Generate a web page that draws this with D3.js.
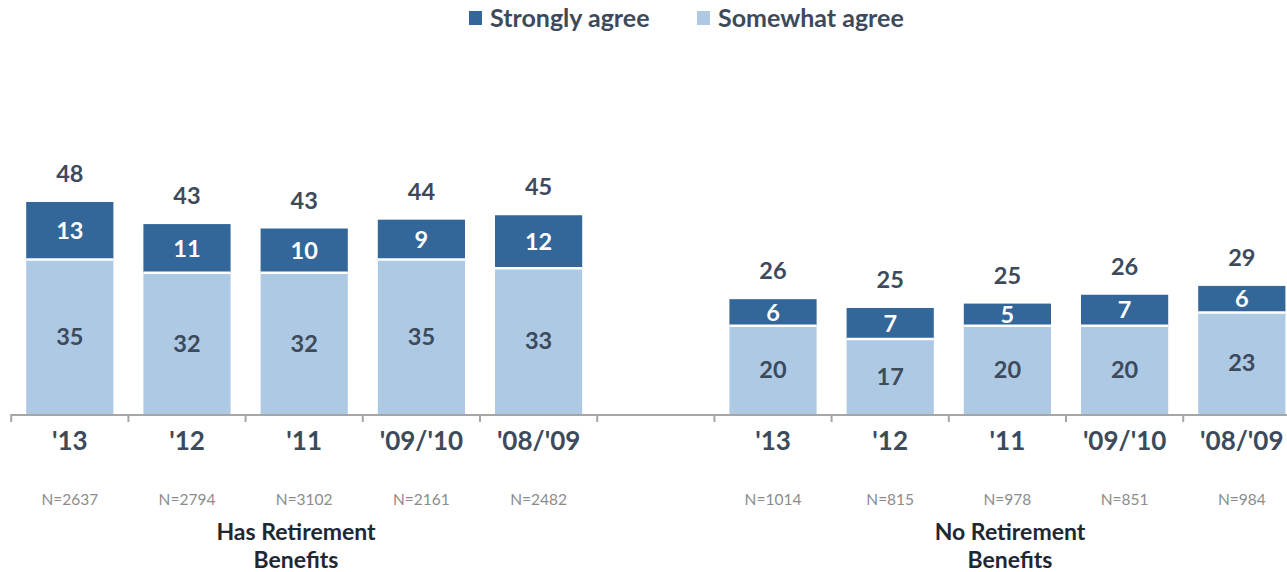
<!DOCTYPE html>
<html><head><meta charset="utf-8">
<script src="https://cdn.jsdelivr.net/npm/d3@7"></script>
<style>body{margin:0;background:#fff;} svg{display:block;font-family:Lato,"Open Sans",sans-serif;}</style>
</head><body><svg id="c" width="1287" height="572"></svg>
<script>
const groups = ["Has Retirement Benefits", "No Retirement Benefits"];
const years = ["'13", "'12", "'11", "'09/'10", "'08/'09"];
const hasStrongly = [13, 11, 10, 9, 12];
const hasSomewhat = [35, 32, 32, 35, 33];
const hasTotal = [48, 43, 43, 44, 45];
const hasN = ["N=2637", "N=2794", "N=3102", "N=2161", "N=2482"];
const noStrongly = [6, 7, 5, 7, 6];
const noSomewhat = [20, 17, 20, 20, 23];
const noTotal = [26, 25, 25, 26, 29];
const noN = ["N=1014", "N=815", "N=978", "N=851", "N=984"];
const seriesNames = ["Strongly agree", "Somewhat agree"];

const dark = "#336699", light = "#adc9e4", txt = "#3c4a5b";

const rows = [];
years.forEach((y,i)=>rows.push({key:"h"+i, year:y, s:hasStrongly[i], w:hasSomewhat[i], t:hasTotal[i], n:hasN[i]}));
const keys = rows.map(r=>r.key).concat(["gap"]);
years.forEach((y,i)=>{rows.push({key:"n"+i, year:y, s:noStrongly[i], w:noSomewhat[i], t:noTotal[i], n:noN[i]}); keys.push("n"+i);});

const svg = d3.select("#c");
const base = 414;
const x = d3.scaleBand().domain(keys).range([11.2, 1300.4]).paddingInner(0.256).paddingOuter(0.128);
const y = d3.scaleLinear().domain([0, 48]).range([base, base - 212]);
const step = x.step();

// axis
svg.append("line").attr("x1", 11).attr("x2", 1287).attr("y1", base+1).attr("y2", base+1)
  .attr("stroke", "#a6a6a6").attr("stroke-width", 2);
keys.forEach(k=>{
  const tx = x(k) - (step - x.bandwidth())/2;
  svg.append("line").attr("x1", tx).attr("x2", tx).attr("y1", base).attr("y2", base+8)
    .attr("stroke", "#a6a6a6").attr("stroke-width", 2);
});

const g = svg.selectAll("g.bar").data(rows).join("g").attr("class","bar");
g.append("rect").attr("x", d=>x(d.key)).attr("width", x.bandwidth())
  .attr("y", d=>y(d.w)).attr("height", d=>base - y(d.w)).attr("fill", light);
g.append("rect").attr("x", d=>x(d.key)).attr("width", x.bandwidth())
  .attr("y", d=>y(d.w + d.s)).attr("height", d=>y(d.w) - y(d.w + d.s)).attr("fill", dark);
g.append("line").attr("x1", d=>x(d.key)).attr("x2", d=>x(d.key)+x.bandwidth())
  .attr("y1", d=>y(d.w)).attr("y2", d=>y(d.w)).attr("stroke", "#fff").attr("stroke-width", 2.5);

const cx = d => x(d.key) + x.bandwidth()/2;
g.append("text").attr("x", cx).attr("y", d=>(y(d.w)+base)/2).attr("dy","0.35em")
  .attr("text-anchor","middle").attr("font-size",23.5).attr("font-weight",700).attr("fill",txt)
  .text(d=>d.w);
g.append("text").attr("x", cx).attr("y", d=>(y(d.w)+y(d.w+d.s))/2).attr("dy","0.35em")
  .attr("text-anchor","middle").attr("font-size",23.5).attr("font-weight",700).attr("fill","#fff")
  .text(d=>d.s);
g.append("text").attr("x", cx).attr("y", d=>y(d.w+d.s)-28).attr("dy","0.35em")
  .attr("text-anchor","middle").attr("font-size",23.5).attr("font-weight",700).attr("fill",txt)
  .text(d=>d.t);
g.append("text").attr("x", cx).attr("y", 441).attr("dy","0.35em")
  .attr("text-anchor","middle").attr("font-size",26).attr("font-weight",700).attr("fill",txt)
  .text(d=>d.year);
g.append("text").attr("x", cx).attr("y", 500).attr("dy","0.35em")
  .attr("text-anchor","middle").attr("font-size",15.5).attr("fill","#8c8c8c")
  .text(d=>d.n);

// group labels
const gc = [296, 1010];
groups.forEach((name,i)=>{
  const parts = name.split(" ");
  const t = svg.append("text").attr("text-anchor","middle").attr("font-size",23).attr("font-weight",700).attr("fill","#1e2833");
  t.append("tspan").attr("x", gc[i]).attr("y", 540).text(parts[0]+" "+parts[1]);
  t.append("tspan").attr("x", gc[i]).attr("y", 568).text(parts[2]);
});

// legend
const lx = [469, 697];
seriesNames.forEach((s,i)=>{
  svg.append("rect").attr("x", lx[i]).attr("y", 11).attr("width", 13).attr("height", 14).attr("fill", i===0?dark:light);
  svg.append("text").attr("x", lx[i]+21).attr("y", 18).attr("dy","0.35em").attr("font-size",25)
    .attr("font-weight",700).attr("fill",txt).text(s);
});
</script></body></html>
